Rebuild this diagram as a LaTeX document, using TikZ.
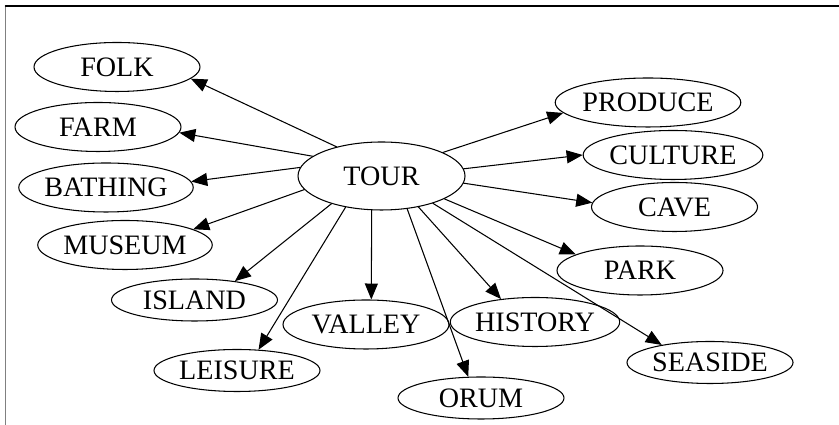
\documentclass[tikz,border=0pt]{standalone}
\usepackage{fontspec}
\setmainfont{Liberation Serif}
\usetikzlibrary{arrows.meta, shapes.geometric}

\begin{document}
\begin{tikzpicture}[>={Triangle[length=3.2mm, width=2.6mm]}, line cap=round, line join=round,
	font=\fontsize{16}{19}\selectfont,
	topic/.style={ellipse, draw, line width=0.6pt, inner sep=0pt,
		minimum width=3.32cm, minimum height=0.98cm},
	flat/.style={topic, minimum height=0.84cm},
	link/.style={->, line width=0.6pt}]

\useasboundingbox (0,0) rectangle (16.78,8.5);

%========================
% Frame (cut at the page edge)
%========================
\draw[gray, line width=0.8pt] (0.11,8.38) -- (0.11,0);
\draw[line width=0.8pt] (0.11,8.38) -- (16.78,8.38);

%========================
% Hub
%========================
\node[topic, minimum width=3.34cm, minimum height=1.36cm] (tour) at (7.63,4.98) {TOUR};

%========================
% Left side
%========================
\node[topic] (folk)    at (2.34,7.16) {FOLK};
\node[topic] (farm)    at (1.96,5.96) {FARM};
\node[topic] (bathing) at (2.12,4.75) {BATHING};
\node[topic] (museum)  at (2.50,3.60) {MUSEUM};
\node[flat]  (island)  at (3.89,2.50) {ISLAND};
\node[flat]  (leisure) at (4.74,1.09) {LEISURE};

%========================
% Bottom
%========================
\node[topic] (valley)  at (7.32,2.01) {VALLEY};
\node[flat]  (orum)    at (9.62,0.54) {ORUM};
\node[topic] (history) at (10.70,2.06) {HISTORY};
\node[flat]  (seaside) at (14.20,1.25) {SEASIDE};

%========================
% Right side
%========================
\node[topic] (park)    at (12.80,3.09) {PARK};
\node[topic] (cave)    at (13.49,4.36) {CAVE};
\node[topic] (culture) at (13.46,5.40) {CULTURE};
\node[topic] (produce) at (12.96,6.45) {PRODUCE};

%========================
% Edges out of the hub
%========================
\draw[link] (tour.147) -- (folk.-9);
\draw[link] (tour.164) -- (farm.-4.5);
\draw[link] (tour.174) -- (bathing.4);
\draw[link] (tour.190) -- (museum.13);
\draw[link] (tour.209) -- (island.25);
\draw[link] (tour.221) -- (leisure.44);
\draw[link] (tour.254) -- (valley.78);
\draw[link] (tour.308) -- (orum.121);
\draw[link] (tour.320) -- (history.146);
\draw[link] (tour.332) -- (seaside.160);
\draw[link] (tour.340) -- (park.166);
\draw[link] (tour.355) -- (cave.177);
\draw[link] (tour.5.6) -- (culture.180);
\draw[link] (tour.21.6) -- (produce.187.5);

\end{tikzpicture}
\end{document}
